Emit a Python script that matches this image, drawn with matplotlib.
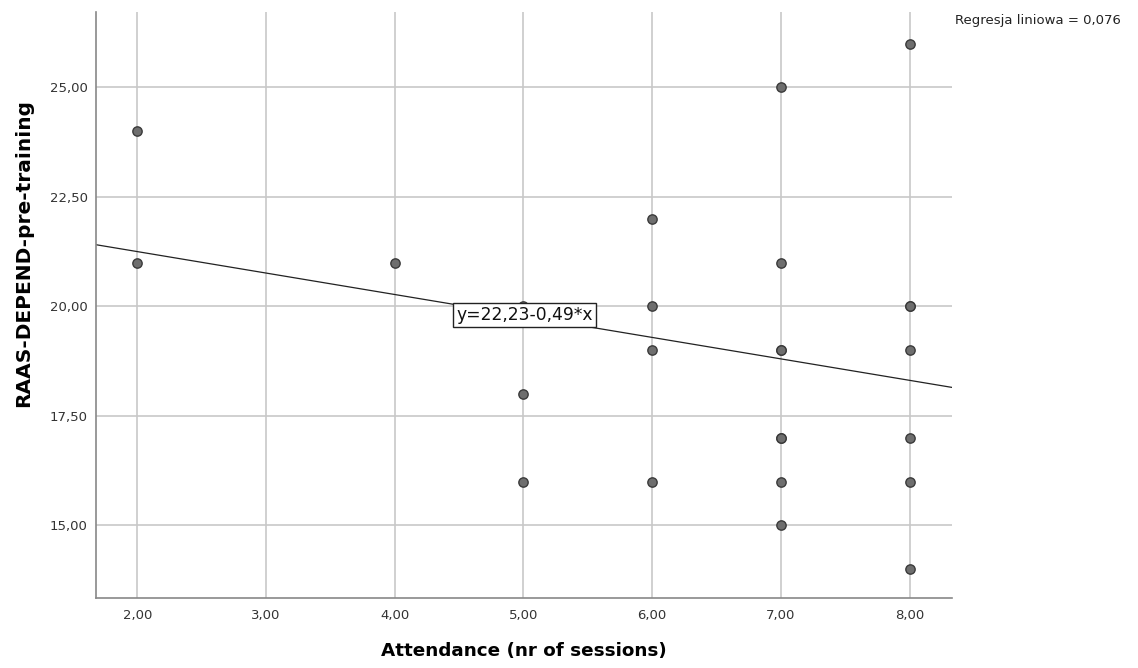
import numpy as np
import matplotlib.pyplot as plt

# Dane
attendance = [2, 2, 4, 5, 5, 5, 6, 6, 6, 6,
              7, 7, 7, 7, 7, 7, 7, 7,
              8, 8, 8, 8, 8, 8, 8]
raas_depend = [24, 21, 21, 20, 18, 16, 22, 20, 19, 16,
               25, 21, 19, 19, 17, 17, 16, 15,
               26, 20, 20, 19, 17, 16, 14]
intercept = 22.23
slope = -0.49
r2_label = "Regresja liniowa = 0,076"
eq_label = "y=22,23-0,49*x"

x_ticks = [2, 3, 4, 5, 6, 7, 8]
y_ticks = [15, 17.5, 20, 22.5, 25]

def comma(v):
    return f"{v:.2f}".replace(".", ",")

fig = plt.figure(figsize=(11.38, 6.68), dpi=100)
ax = fig.add_axes([0.0844, 0.1048, 0.7522, 0.8772])

xlim = (1.68, 8.33)
ylim = (13.34, 26.72)
ax.set_xlim(xlim)
ax.set_ylim(ylim)

ax.grid(True, color="#c8c8c8", linewidth=1.2)
ax.set_axisbelow(True)

# Linia regresji
xs = np.array(xlim)
ax.plot(xs, intercept + slope * xs, color="#222222", linewidth=0.9, zorder=2)

ax.scatter(attendance, raas_depend, s=45, facecolor="#6e6e6e",
           edgecolor="#3a3a3a", linewidth=1.0, zorder=3)

ax.text(4.48, 19.80, eq_label, fontsize=12.3, color="#111111",
        va="center", ha="left", zorder=4,
        bbox=dict(boxstyle="square,pad=0.2", facecolor="white",
                  edgecolor="#222222", linewidth=1.0))

ax.set_xticks(x_ticks)
ax.set_xticklabels([comma(v) for v in x_ticks])
ax.set_yticks(y_ticks)
ax.set_yticklabels([comma(v) for v in y_ticks])
ax.tick_params(length=0, labelsize=9.5, labelcolor="#333333")
ax.tick_params(axis="x", pad=8)
ax.tick_params(axis="y", pad=6)

for side in ["top", "right"]:
    ax.spines[side].set_visible(False)
for side in ["left", "bottom"]:
    ax.spines[side].set_color("#888888")
    ax.spines[side].set_linewidth(1.2)

ax.set_xlabel("Attendance (nr of sessions)", fontsize=13.2, fontweight="bold")
ax.set_ylabel("RAAS-DEPEND-pre-training", fontsize=14.5, fontweight="bold")
ax.xaxis.set_label_coords(0.5, -0.075)
ax.yaxis.set_label_coords(-0.074, 0.589)

fig.text(0.8395, 0.97, r2_label, fontsize=9.5, color="#222222",
         ha="left", va="center")

plt.savefig("out.png", dpi=100)
plt.close()
